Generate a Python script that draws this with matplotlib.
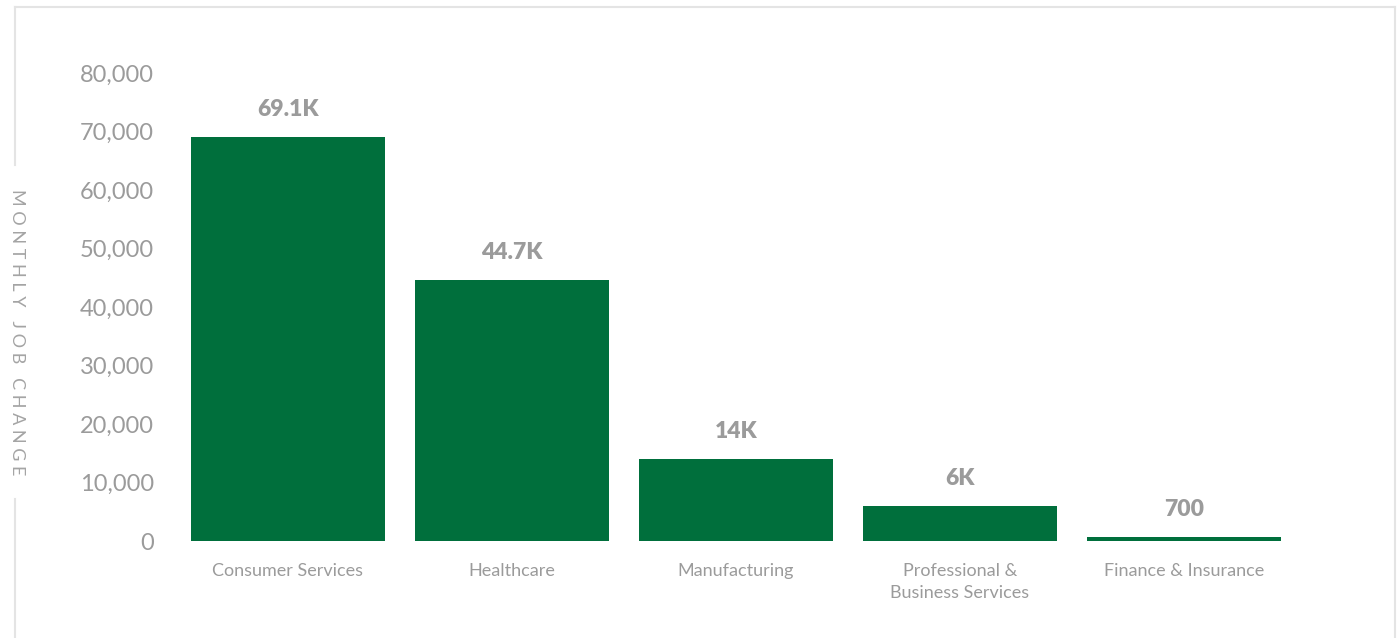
import matplotlib.pyplot as plt
from matplotlib.lines import Line2D
from matplotlib.ticker import FuncFormatter

#### Data
categories = ['Consumer Services', 'Healthcare', 'Manufacturing',
              'Professional &\nBusiness Services', 'Finance & Insurance']
job_change = [69100, 44700, 14000, 6000, 700]
bar_labels = ['69.1K', '44.7K', '14K', '6K', '700']
y_ticks    = [0, 10000, 20000, 30000, 40000, 50000, 60000, 70000, 80000]

#### Style
green = '#006f3c'
gray  = '#9b9b9b'
frame = '#e4e4e4'
plt.rcParams['font.family'] = ['Lato', 'DejaVu Sans']

fig = plt.figure(figsize=(14, 6.38), dpi=100)
ax = fig.add_axes([0.1257, 0.152, 0.864, 0.7335])

x = range(len(categories))
ax.bar(x, job_change, width=0.87, color=green)

for i, (v, lab) in enumerate(zip(job_change, bar_labels)):
    ax.annotate(lab, (i, v), xytext=(0, 12), textcoords='offset points',
                ha='center', va='bottom', fontsize=16.5, fontweight='heavy',
                color=gray)

ax.set_xlim(-0.5, 4.9)
ax.set_ylim(0, 80000)
ax.set_yticks(y_ticks)
ax.yaxis.set_major_formatter(FuncFormatter(lambda v, p: f'{int(v):,}'))
ax.set_xticks(list(x))
ax.set_xticklabels(categories, linespacing=1.45)
ax.tick_params(axis='y', length=0, pad=16, labelsize=17, labelcolor=gray)
ax.tick_params(axis='x', length=0, pad=16, labelsize=13, labelcolor=gray)
for s in ax.spines.values():
    s.set_visible(False)

#### Y label, placed in figure coordinates
fig.text(17 / 1400, 1 - 332 / 638, 'M O N T H L Y   J O B   C H A N G E',
         rotation=270, ha='center', va='center', fontsize=13,
         fontweight='normal', color='#a4a4a4')

#### Frame around the chart
W, H = 1400, 638
def fl(x0, y0, x1, y1):
    fig.add_artist(Line2D([x0 / W, x1 / W], [1 - y0 / H, 1 - y1 / H],
                          color=frame, lw=1.5))
fl(15, 7, 1395, 7)
fl(1395, 7, 1395, 638)
fl(15, 7, 15, 165)
fl(15, 499, 15, 638)

fig.savefig('out.png', dpi=100, facecolor='white')
